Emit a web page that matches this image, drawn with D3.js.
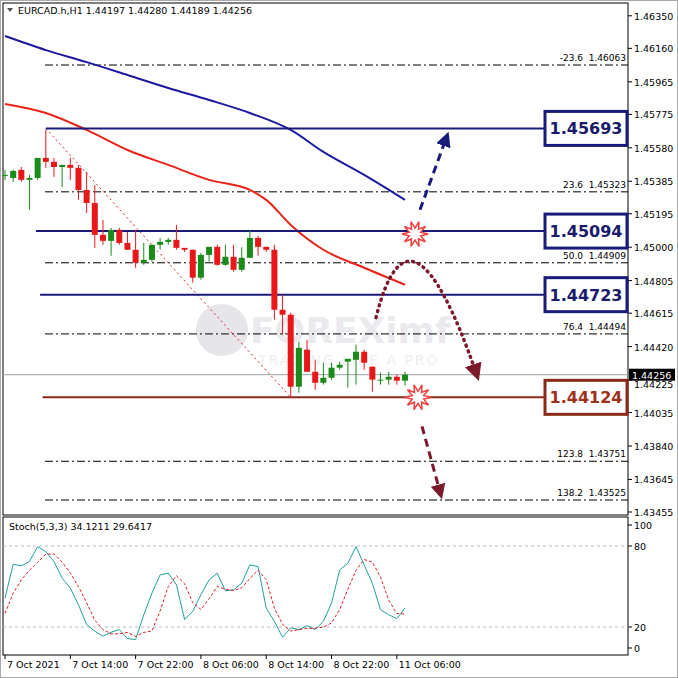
<!DOCTYPE html>
<html><head><meta charset="utf-8">
<script src="https://cdn.jsdelivr.net/npm/d3@7"></script>
<style>body{margin:0;background:#fff}text{font-family:"DejaVu Sans",sans-serif}</style>
</head><body><svg id="c" width="678" height="678"></svg>
<script>
const opens =[1.45422,1.45404,1.45451,1.45393,1.45404,1.45521,1.45498,1.45468,1.45480,1.45463,1.45334,1.45258,1.45072,1.45037,1.45101,1.45025,1.44985,1.44909,1.44926,1.45014,1.45031,1.45043,1.44996,1.44985,1.44822,1.44955,1.45002,1.44897,1.44944,1.44868,1.44938,1.45054,1.45002,1.44985,1.44635,1.44606,1.44186,1.44402,1.44273,1.44209,1.44238,1.44297,1.44332,1.44343,1.44390,1.44303,1.44227,1.44227,1.44244,1.44221];
const highs =[1.45451,1.45451,1.45468,1.45422,1.45521,1.45684,1.45521,1.45480,1.45521,1.45480,1.45439,1.45363,1.45159,1.45113,1.45113,1.45089,1.45101,1.45025,1.45014,1.45054,1.45054,1.45130,1.44996,1.44985,1.44967,1.45002,1.45014,1.45014,1.45014,1.45000,1.45101,1.45066,1.45002,1.45014,1.44723,1.44618,1.44448,1.44460,1.44343,1.44326,1.44326,1.44332,1.44332,1.44431,1.44402,1.44303,1.44268,1.44273,1.44256,1.44273];
const lows  =[1.45393,1.45381,1.45381,1.45218,1.45393,1.45463,1.45410,1.45352,1.45393,1.45276,1.45200,1.44996,1.45014,1.44950,1.45014,1.44985,1.44880,1.44897,1.44915,1.44985,1.45014,1.44985,1.44973,1.44793,1.44810,1.44915,1.44892,1.44892,1.44857,1.44857,1.44938,1.44950,1.44973,1.44577,1.44489,1.44128,1.44151,1.44273,1.44168,1.44198,1.44227,1.44285,1.44180,1.44198,1.44285,1.44157,1.44198,1.44198,1.44198,1.44192];
const closes=[1.45422,1.45445,1.45393,1.45404,1.45521,1.45498,1.45468,1.45480,1.45463,1.45334,1.45258,1.45072,1.45037,1.45101,1.45025,1.44985,1.44909,1.44926,1.45014,1.45031,1.45043,1.44996,1.44985,1.44822,1.44955,1.45002,1.44897,1.44944,1.44868,1.44938,1.45054,1.45002,1.44985,1.44635,1.44606,1.44186,1.44413,1.44273,1.44209,1.44238,1.44297,1.44314,1.44349,1.44390,1.44326,1.44227,1.44227,1.44244,1.44221,1.44256];
const maIdx=[0,5,10,15,20,25,30,35,39,44,49];
const maBlue=[1.46232,1.46150,1.46080,1.46005,1.45929,1.45859,1.45783,1.45684,1.45556,1.45422,1.45276];
const maRedIdx=[0,5,10,15,20,25,30,32,35,39,44,49];
const maRed=[1.45836,1.45783,1.45684,1.45567,1.45480,1.45393,1.45334,1.45276,1.45130,1.44985,1.44880,1.44781];
const stochMain=[41.4,66.5,65.3,68.5,79.5,75.8,68.5,56.2,48.8,36.5,21.8,16.9,13.2,16.1,18.1,11.4,10.7,29.1,45.1,58.6,59.9,51.3,25.5,31.6,43.9,54.9,59.9,46.8,47.6,52.5,66,64.8,34,24.2,12.4,19.3,18.1,21,18.1,24.2,37.7,62.3,67.2,79.5,66,52.5,32.8,29.1,26.2,34.1];
const stochSig=[30,45,55,62,68,74,74,68,60,50,38,25,18,15,15,16,13,16,17,32,50,58,52,38,33,41,50,48,47,49,56,62,55,34,22,17,18,19,19,20,23,33,48,62,70,68,57,40,30,29.6];
const priceTicks=[1.46350,1.46160,1.45965,1.45775,1.45580,1.45385,1.45195,1.45000,1.44805,1.44615,1.44420,1.44225,1.44035,1.43840,1.43645,1.43455];
const timeIdx=[0,8,16,24,32,40,48];
const timeLabels=["7 Oct 2021","7 Oct 14:00","7 Oct 22:00","8 Oct 06:00","8 Oct 14:00","8 Oct 22:00","11 Oct 06:00"];
const levels=[{v:1.45693,c:"#1a1a7a",t:"1.45693",from:5},{v:1.45094,c:"#1a1a7a",t:"1.45094",from:3.8},{v:1.44723,c:"#1a1a7a",t:"1.44723",from:4.3},{v:1.44124,c:"#8b2a1a",t:"1.44124",from:4.6}];
const fibLabels=["-23.6","23.6","50.0","76.4","123.8","138.2"];
const fibValues=[1.46063,1.45323,1.44909,1.44494,1.43751,1.43525];
const title="EURCAD.h,H1 1.44197 1.44280 1.44189 1.44256";
const lastPrice=1.44256;

const svg=d3.select("#c");
const L=3,R=628,T=3,B=515,ST=517,SB=655;
const x=d3.scaleLinear().domain([0,49]).range([5,405]);
const y=d3.scaleLinear().domain([1.46063,1.43525]).range([65,500]);
const ys=d3.scaleLinear().domain([20,80]).range([627,546]);
svg.append("rect").attr("x",0.5).attr("y",0.5).attr("width",677).attr("height",677).attr("fill","#fff").attr("stroke","#aaa");
svg.append("rect").attr("x",L).attr("y",T).attr("width",R-L).attr("height",B-T).attr("fill","#fff").attr("stroke","#000");
svg.append("rect").attr("x",L).attr("y",ST).attr("width",R-L).attr("height",SB-ST).attr("fill","#fff").attr("stroke","#000");
// watermark
svg.append("circle").attr("cx",222).attr("cy",330).attr("r",26).attr("fill","#e6e6ea");
svg.append("text").attr("x",250).attr("y",343).attr("font-size",36).attr("font-weight","bold").attr("fill","#eaeaee").text("FOREXimf");
svg.append("text").attr("x",258).attr("y",365).attr("font-size",14).attr("fill","#eeeef0").attr("letter-spacing",2).text("TRADING LIKE A PRO");
// axis
const ax=svg.append("g");
priceTicks.forEach(p=>{const yy=y(p);ax.append("line").attr("x1",R).attr("x2",R+4).attr("y1",yy).attr("y2",yy).attr("stroke","#000");
 const near=Math.abs(p-lastPrice)<0.0004;
 ax.append("text").attr("x",R+6).attr("y",yy+(near?8:4)).attr("font-size",9.5).text(p.toFixed(5));});
[[100,525],[80,546],[20,627],[0,648]].forEach(([v,yy])=>{ax.append("text").attr("x",R+6).attr("y",yy+4).attr("font-size",9.5).text(v);ax.append("line").attr("x1",R).attr("x2",R+4).attr("y1",yy).attr("y2",yy).attr("stroke","#000");});
timeIdx.forEach((i,k)=>{const xx=x(i);ax.append("line").attr("x1",xx).attr("x2",xx).attr("y1",SB).attr("y2",SB+4).attr("stroke","#000");ax.append("text").attr("x",xx+2).attr("y",SB+13).attr("font-size",9.5).text(timeLabels[k]);});
// fib lines
fibValues.forEach((v,i)=>{svg.append("line").attr("x1",45).attr("x2",R).attr("y1",y(v)).attr("y2",y(v)).attr("stroke","#000").attr("stroke-dasharray","8,3,2,3");
 svg.append("text").attr("x",583).attr("y",y(v)-4).attr("font-size",9).attr("text-anchor","end").text(fibLabels[i]);
 svg.append("text").attr("x",626).attr("y",y(v)-4).attr("font-size",9).attr("text-anchor","end").text(v.toFixed(5));});
// current price line
svg.append("line").attr("x1",L).attr("x2",R).attr("y1",y(lastPrice)).attr("y2",y(lastPrice)).attr("stroke","#9aa4a4");
// fib trend
svg.append("line").attr("x1",x(5)).attr("y1",y(1.45693)).attr("x2",x(35)).attr("y2",y(1.44124)).attr("stroke","#d22").attr("stroke-dasharray","2,3");
// MAs
const lineB=d3.line().x((d,i)=>x(maIdx[i])).y(d=>y(d)).curve(d3.curveMonotoneX);
svg.append("path").attr("d",lineB(maBlue)).attr("fill","none").attr("stroke","#1a1aa0").attr("stroke-width",2);
const lineR=d3.line().x((d,i)=>x(maRedIdx[i])).y(d=>y(d)).curve(d3.curveMonotoneX);
svg.append("path").attr("d",lineR(maRed)).attr("fill","none").attr("stroke","#e8241a").attr("stroke-width",2);
// levels
levels.forEach(l=>{svg.append("line").attr("x1",x(l.from)).attr("x2",545).attr("y1",y(l.v)).attr("y2",y(l.v)).attr("stroke",l.c).attr("stroke-width",2);
 svg.append("rect").attr("x",545).attr("y",y(l.v)-17).attr("width",82).attr("height",34).attr("fill","#fff").attr("stroke",l.c).attr("stroke-width",3);
 svg.append("text").attr("x",586).attr("y",y(l.v)+6).attr("text-anchor","middle").attr("font-size",16).attr("font-weight","bold").attr("font-family","Liberation Sans,Arial").attr("fill",l.c==="#8b2a1a"?"#a0301a":"#1a1a6a").text(l.t);});
// candles
const g=svg.append("g");
closes.forEach((c,i)=>{const o=opens[i],up=c>=o,col=up?"#1a8a1a":"#e8181a",xx=x(i);
 g.append("line").attr("x1",xx).attr("x2",xx).attr("y1",y(highs[i])).attr("y2",y(lows[i])).attr("stroke",col);
 const t=y(Math.max(o,c)),b=y(Math.min(o,c));
 g.append("rect").attr("x",xx-3).attr("y",t).attr("width",6).attr("height",Math.max(1,b-t)).attr("fill",col);});
// annotations
const defs=svg.append("defs");
function mk(id,col){defs.append("marker").attr("id",id).attr("viewBox","0 0 10 10").attr("refX",5).attr("refY",5).attr("markerWidth",5).attr("markerHeight",5).attr("orient","auto").append("path").attr("d","M0,0L10,5L0,10z").attr("fill",col);}
mk("ab","#1a1a7a");mk("am","#7a1a2a");
svg.append("line").attr("x1",420).attr("y1",y(1.45218)).attr("x2",446).attr("y2",y(1.45633)).attr("stroke","#1a1a7a").attr("stroke-width",3).attr("stroke-dasharray","8,5").attr("marker-end","url(#ab)");
svg.append("path").attr("d",`M376,${y(1.44589)} Q410,${y(1.45381)} 476,${y(1.44268)}`).attr("fill","none").attr("stroke","#7a1a2a").attr("stroke-width",3.5).attr("stroke-dasharray","1,5").attr("stroke-linecap","round").attr("marker-end","url(#am)");
svg.append("line").attr("x1",422).attr("y1",y(1.43955)).attr("x2",440).attr("y2",y(1.43572)).attr("stroke","#7a1a2a").attr("stroke-width",3).attr("stroke-dasharray","8,5").attr("marker-end","url(#am)");
function star(cx,cy){const pts=[];for(let k=0;k<20;k++){const r=k%2?6:13,a=k*Math.PI/10;pts.push([cx+r*Math.cos(a),cy+r*Math.sin(a)]);}
 svg.append("polygon").attr("points",pts.map(p=>p.join(",")).join(" ")).attr("fill","#fff").attr("stroke","#f04040").attr("stroke-width",1.5);}
star(415,y(1.45094)+3);star(418,y(1.44124));
// stoch
[80,20].forEach(v=>svg.append("line").attr("x1",L).attr("x2",R).attr("y1",ys(v)).attr("y2",ys(v)).attr("stroke","#bbb").attr("stroke-dasharray","3,3"));
const sl=d3.line().x((d,i)=>x(i)).y(d=>ys(d));
svg.append("path").attr("d",sl(stochMain)).attr("fill","none").attr("stroke","#20a0a0");
svg.append("path").attr("d",sl(stochSig)).attr("fill","none").attr("stroke","#e02020").attr("stroke-dasharray","3,2");
svg.append("text").attr("x",9).attr("y",530).attr("font-size",9.5).text("Stoch(5,3,3) 34.1211 29.6417");
// title
svg.append("path").attr("d","M7,8L13,8L10,12z").attr("fill","#555");
svg.append("text").attr("x",18).attr("y",14).attr("font-size",9.5).text(title);
// last price box
svg.append("rect").attr("x",R+1).attr("y",y(lastPrice)-6).attr("width",46).attr("height",12).attr("fill","#000");
svg.append("text").attr("x",R+4).attr("y",y(lastPrice)+4).attr("font-size",9.5).attr("fill","#fff").text(lastPrice.toFixed(5));
</script></body></html>
